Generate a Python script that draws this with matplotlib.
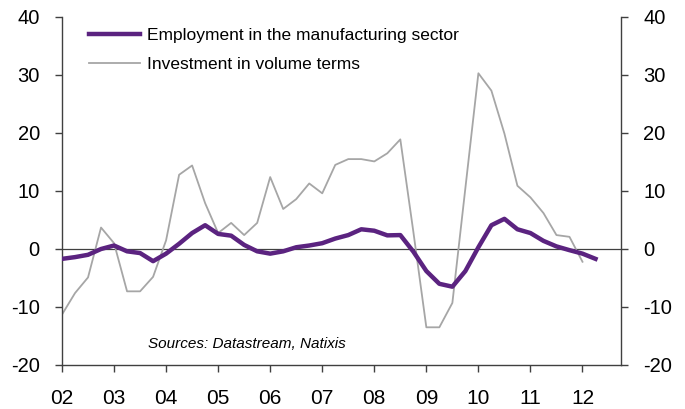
import matplotlib
matplotlib.use("Agg")
import matplotlib.pyplot as plt
import numpy as np

plt.rcParams['font.family'] = ['Liberation Sans', 'DejaVu Sans']

# Quarterly data
emp_start = 2002.0
employment = [-1.7, -1.4, -1.0, 0.0, 0.6, -0.4, -0.7, -2.1,
              -0.8, 0.9, 2.75, 4.1, 2.6, 2.3, 0.7, -0.4,
              -0.8, -0.4, 0.3, 0.6, 1.0, 1.8, 2.4, 3.4,
              3.15, 2.35, 2.4, -0.45, -3.8, -6.0, -6.5, -3.8,
              0.3, 4.1, 5.2, 3.4, 2.75, 1.4, 0.45, -0.2,
              -0.8, -1.7]
investment = [-11.3, -7.6, -4.9, 3.7, 1.0, -7.3, -7.3, -4.8,
              1.5, 12.8, 14.4, 7.9, 2.75, 4.5, 2.4, 4.5,
              12.4, 6.9, 8.6, 11.3, 9.6, 14.5, 15.5, 15.5,
              15.1, 16.5, 18.9, 3.0, -13.5, -13.5, -9.3, 10.5,
              30.3, 27.3, 19.9, 10.9, 8.9, 6.2, 2.4, 2.1,
              -2.2]
year_labels = ['02', '03', '04', '05', '06', '07', '08', '09', '10', '11', '12']
y_ticks = [-20, -10, 0, 10, 20, 30, 40]

x_emp = emp_start + 0.25 * np.arange(len(employment))
x_inv = emp_start + 0.25 * np.arange(len(investment))

fig = plt.figure(figsize=(6.85, 4.09), dpi=100)
ax = fig.add_axes([62/685, 1 - 365/409, (621 - 62)/685, (365 - 17)/409])

purple = '#5B2380'
gray = '#A6A6A6'
spine_c = '#404040'

ax.axhline(0, color='#404040', lw=0.9, zorder=1)
ax.plot(x_inv, investment, color=gray, lw=1.3, label='Investment in volume terms', zorder=2)
ax.plot(x_emp, employment, color=purple, lw=3.2, label='Employment in the manufacturing sector', zorder=3)

ax.set_xlim(2002.0, 2012.74)
ax.set_ylim(-20, 40)
years = 2002 + np.arange(len(year_labels))
ax.set_xticks(years)
ax.set_xticklabels(year_labels)
ax.set_yticks(y_ticks)
ax.set_yticklabels([str(v) for v in y_ticks])

ax.spines['top'].set_visible(False)
for s in ['left', 'right', 'bottom']:
    ax.spines[s].set_color(spine_c)
    ax.spines[s].set_linewidth(1.0)

ax.tick_params(axis='y', which='both', direction='out', length=5, width=1.0,
               color=spine_c, labelsize=14.5, pad=11, left=True, right=True,
               labelleft=True, labelright=True)
ax.tick_params(axis='x', direction='out', length=5, width=1.0, color=spine_c,
               labelsize=15, pad=12)

handles, labels = ax.get_legend_handles_labels()
leg = ax.legend(handles[::-1], labels[::-1], loc='upper left',
                bbox_to_anchor=(0.036, 0.9885), frameon=False, fontsize=12.5,
                handlelength=2.93, handletextpad=0.4, labelspacing=0.78,
                borderaxespad=0)

ax.text(0.153, 0.06, 'Sources: Datastream, Natixis', transform=ax.transAxes,
        fontsize=11, style='italic', ha='left', va='center')

fig.savefig('out.png', dpi=100)
